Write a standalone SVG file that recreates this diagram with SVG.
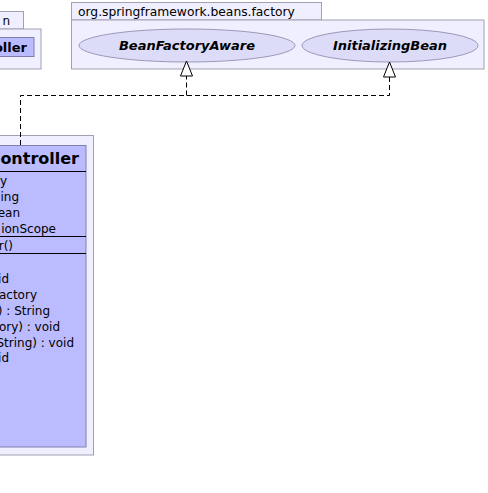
<svg xmlns="http://www.w3.org/2000/svg" width="488" height="493" viewBox="0 0 488 493">
<style>
.pkg{fill:#EFEFFF;stroke:#A0A0B0;stroke-width:1}
.cls{fill:#BBBBFF;stroke:#7F7FAF;stroke-width:1}
.sep{stroke:#000;stroke-width:1}
.ell{fill:#DCDCF8;stroke:#9A9AB8;stroke-width:1}
.t{font-family:"DejaVu Sans",sans-serif;font-size:12px;fill:#000}
.pl{font-family:"DejaVu Sans",sans-serif;font-size:12.3px;fill:#000}
.b{font-family:"DejaVu Sans",sans-serif;font-weight:bold;fill:#000}
.bi{font-family:"DejaVu Sans",sans-serif;font-weight:bold;font-style:italic;font-size:13px;fill:#000}
.dash{fill:none;stroke:#000;stroke-width:1;stroke-dasharray:5,3}
.head{fill:#fff;stroke:#000;stroke-width:1}
</style>
<rect width="488" height="493" fill="#fff"/>
<g id="pkg-left">
<rect class="pkg" x="-20" y="11.5" width="43.5" height="17.5"/>
<rect class="pkg" x="-20" y="29" width="61" height="40"/>
<text class="t" x="10" y="25" text-anchor="end">n</text>
<g id="node-left-class">
<rect class="cls" x="-20" y="37.5" width="54" height="19"/>
<text class="b" x="27" y="52" font-size="13" text-anchor="end">oller</text>
</g>
</g>
<g id="pkg-factory">
<rect class="pkg" x="71.5" y="2.5" width="250" height="17.5"/>
<rect class="pkg" x="71.5" y="20" width="412.5" height="49"/>
<text class="pl" x="78" y="16">org.springframework.beans.factory</text>
<g id="node-BeanFactoryAware">
<ellipse class="ell" cx="187" cy="45.5" rx="108" ry="16.5"/>
<text class="bi" x="187" y="50" text-anchor="middle">BeanFactoryAware</text>
</g>
<g id="node-InitializingBean">
<ellipse class="ell" cx="390" cy="45.5" rx="88" ry="16.5"/>
<text class="bi" x="390" y="50" text-anchor="middle">InitializingBean</text>
</g>
</g>
<g id="pkg-controller">
<rect class="pkg" x="-20" y="135.5" width="113.5" height="319.5"/>
<g id="node-Controller">
<rect class="cls" x="-20" y="145.5" width="106" height="301.5"/>
<text class="b" x="79" y="164" font-size="16" text-anchor="end">ontroller</text>
<line class="sep" x1="-20" y1="171.5" x2="86" y2="171.5"/>
<text class="t" x="7" y="185" text-anchor="end">y</text>
<text class="t" x="19" y="201" text-anchor="end">ing</text>
<text class="t" x="20" y="217" text-anchor="end">ean</text>
<text class="t" x="56" y="233" text-anchor="end">ionScope</text>
<line class="sep" x1="-20" y1="236.5" x2="86" y2="236.5"/>
<text class="t" x="13" y="250" text-anchor="end">r()</text>
<line class="sep" x1="-20" y1="253.5" x2="86" y2="253.5"/>
<text class="t" x="9" y="283" text-anchor="end">id</text>
<text class="t" x="37" y="299" text-anchor="end">actory</text>
<text class="t" x="50" y="315" text-anchor="end">) : String</text>
<text class="t" x="60" y="331" text-anchor="end">ory) : void</text>
<text class="t" x="74" y="347" text-anchor="end">String) : void</text>
<text class="t" x="9" y="362" text-anchor="end">id</text>
</g>
</g>
<g id="connectors">
<path class="dash" d="M20.5,145 V95.5 H389.5 V77"/>
<path class="dash" d="M186.5,95.5 V76"/>
<polygon class="head" points="186.5,61 180.5,76 192.5,76"/>
<polygon class="head" points="389.5,62 383.5,77 395.5,77"/>
</g>
</svg>
